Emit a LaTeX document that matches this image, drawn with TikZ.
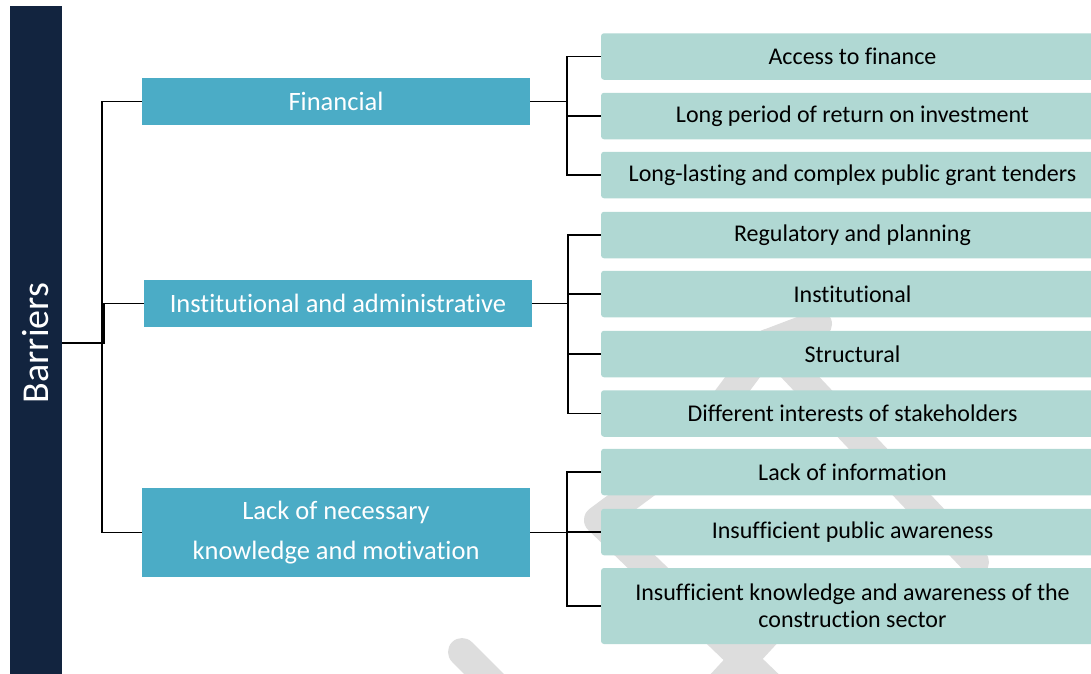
\documentclass[tikz,border=0pt]{standalone}
\usepackage{fontspec}
\setmainfont{Carlito}[Ligatures={NoCommon,NoContextual},RawFeature={-liga;-clig;-dlig}]
\definecolor{barnavy}{HTML}{12243F}
\definecolor{catblue}{HTML}{4BACC6}
\definecolor{itemteal}{HTML}{B0D8D3}
\definecolor{wmgray}{HTML}{DDDDDD}
\begin{document}
\begin{tikzpicture}[x=1pt,y=-1pt,
  lvltwo/.style={fill=catblue, text=white, minimum width=388pt, minimum height=47pt,
    inner sep=0pt, font=\fontsize{26.5}{40}\selectfont, align=center},
  lvlthree/.style={fill=itemteal, rounded corners=3pt, minimum width=503pt, minimum height=46.5pt,
    inner sep=0pt, font=\fontsize{24}{27}\selectfont, align=center},
  link/.style={draw=black, line width=1.8pt},
  wmark/.style={draw=wmgray, line width=28pt, line cap=round, line join=round}
]
\clip (0,0) rectangle (1091,673);
\fill[white] (0,0) rectangle (1091,673);

% faint background watermark strokes
\draw[wmark] (718,410) -- (768,343) -- (975,562);
\draw[wmark] (768,343) -- (818,324);
\draw[wmark] (668,468) -- (598,520) -- (775,690);
\draw[wmark] (775,625) -- (715,690);
\draw[wmark] (462,652) -- (520,710);

% root bar
\node[fill=barnavy, minimum width=52pt, minimum height=674pt, inner sep=0pt] (bar) at (36,343) {};
\node[text=white, rotate=90, font=\fontsize{38}{40}\selectfont] (bartext) at (bar.center) {Barriers};

% categories
\node[lvltwo] (fin) at (336,101.5) {Financial};
\node[lvltwo] (inst) at (338,303.5) {Institutional and administrative};
\node[lvltwo, minimum height=89pt] (lack) at (336,532.5) {Lack of necessary\\knowledge and motivation};

% items
\node[lvlthree] (f1) at (852.5,56.5) {Access to finance};
\node[lvlthree] (f2) at (852.5,116) {Long period of return on investment};
\node[lvlthree] (f3) at (852.5,175) {Long-lasting and complex public grant tenders};
\node[lvlthree] (i1) at (852.5,235) {Regulatory and planning};
\node[lvlthree] (i2) at (852.5,294) {Institutional};
\node[lvlthree] (i3) at (852.5,354) {Structural};
\node[lvlthree] (i4) at (852.5,413.5) {Different interests of stakeholders};
\node[lvlthree] (k1) at (852.5,472) {Lack of information};
\node[lvlthree] (k2) at (852.5,532) {Insufficient public awareness};
\node[lvlthree, minimum height=76pt] (k3) at (852.5,606) {Insufficient knowledge and awareness of the\\construction sector};

% root to categories
\draw[link] (bar.east) -- ++(40,0) |- (fin.west);
\draw[link] (bar.east) -- ++(41.5,0) |- (inst.west);
\draw[link] (bar.east) -- ++(40,0) |- (lack.west);

% categories to items
\foreach \c in {f1,f2,f3} \draw[link] (fin.east) -- ++(37,0) |- (\c.west);
\foreach \c in {i1,i2,i3,i4} \draw[link] (inst.east) -- ++(36,0) |- (\c.west);
\foreach \c in {k1,k2,k3} \draw[link] (lack.east) -- ++(37,0) |- (\c.west);
\end{tikzpicture}
\end{document}
